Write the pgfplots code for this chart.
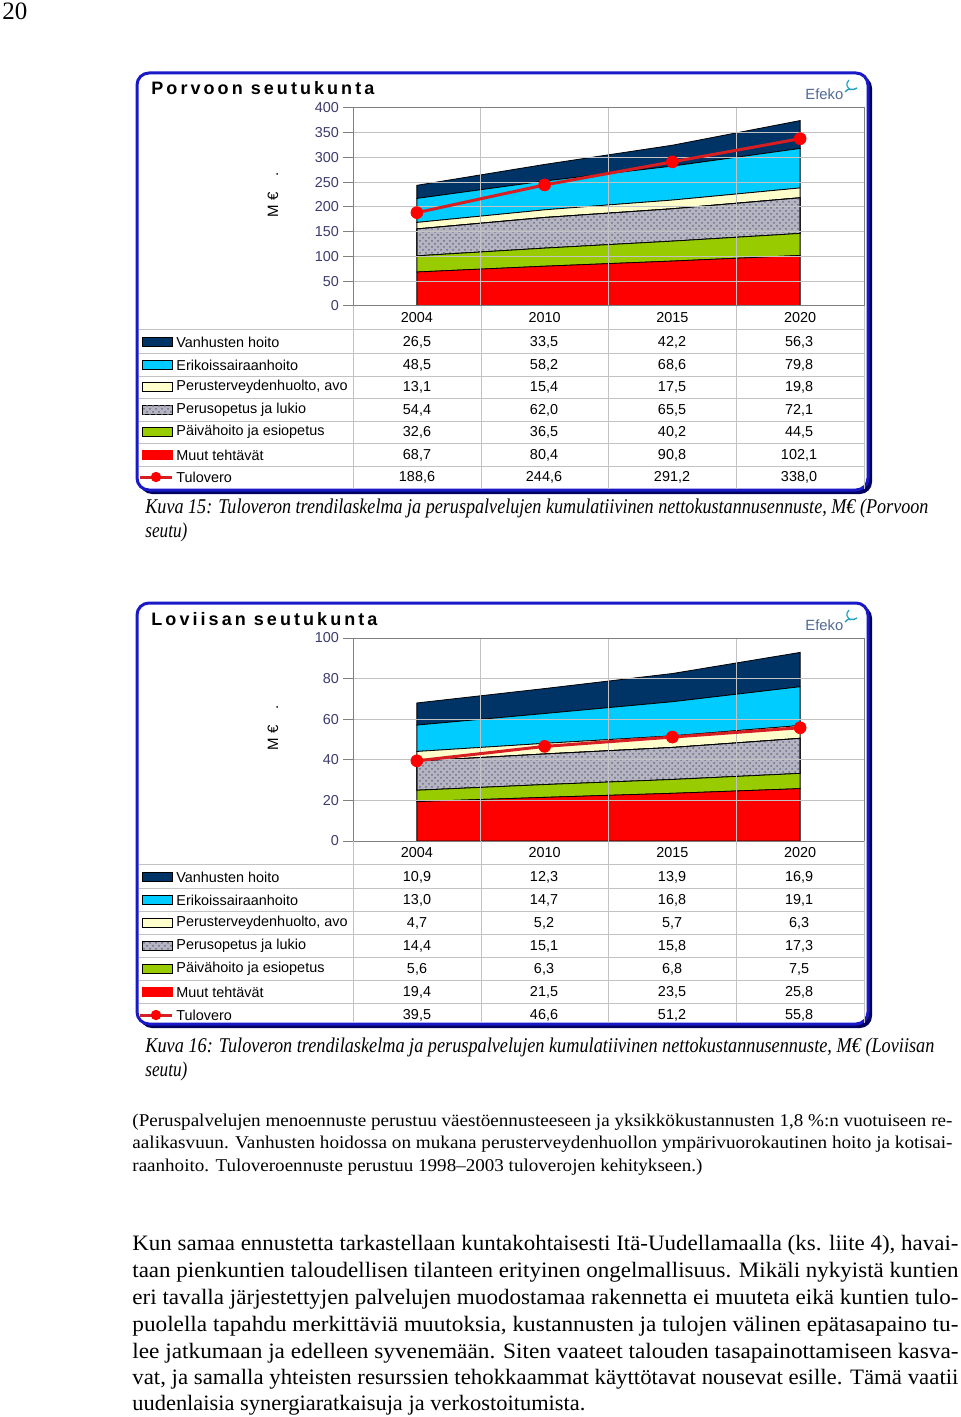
\documentclass[border=0pt]{standalone}
\usepackage{fontspec}
\setmainfont{Liberation Serif}
\newfontfamily\arial{Liberation Sans}
\newfontfamily\titlefont[LetterSpace=17]{Liberation Sans}
\usepackage{graphicx}
\usepackage{pgfplots}
\pgfplotsset{compat=1.18}
\usetikzlibrary{patterns}

\definecolor{navyc}{RGB}{0,51,102}
\definecolor{cyanc}{RGB}{0,204,255}
\definecolor{creamc}{RGB}{255,255,204}
\definecolor{greenc}{RGB}{153,204,0}
\definecolor{redc}{RGB}{255,0,0}
\definecolor{linered}{RGB}{215,30,35}
\definecolor{patgray}{RGB}{180,180,194}
\definecolor{patdot}{RGB}{110,110,130}
\definecolor{tickblue}{RGB}{60,60,110}
\definecolor{gridgray}{RGB}{195,195,195}
\definecolor{frameblue}{RGB}{25,25,200}
\definecolor{shadowc}{RGB}{0,0,95}
\definecolor{efekoc}{RGB}{80,105,150}
\definecolor{efekot}{RGB}{40,160,190}

\newcommand\tfont{\arial\fontsize{7.2}{8.6}\selectfont}

\tikzset{
  ar/.style={draw=black, line width=0.4pt, fill=#1},
  pat/.style={draw=black, line width=0.4pt, fill=patgray,
    postaction={pattern=crosshatch dots, pattern color=patdot}},
  tv/.style={linered, line width=1.5pt, mark=*, mark size=3pt,
    mark options={fill=redc, draw=redc, line width=0.3pt}},
}

\pgfplotsset{
  areabase/.style={
    scale only axis, width=255.5pt,
    xmin=-0.5, xmax=3.5, ymin=0,
    xtick={0,1,2,3}, xticklabels={2004,2010,2015,2020},
    minor xtick={-0.5,0.5,1.5,2.5,3.5}, xminorgrids,
    ymajorgrids, grid style={gridgray, line width=0.5pt},
    minor grid style={gridgray, line width=0.5pt},
    axis line style={gray, line width=0.5pt},
    xtick style={draw=none}, minor tick length=0pt,
    ytick style={gray, line width=0.5pt},
    tick align=outside, major tick length=5pt,
    xtick pos=bottom, ytick pos=left,
    /pgf/number format/assume math mode=true,
    yticklabel style={font=\tfont, text=tickblue, xshift=1.5pt},
    xticklabel style={font=\tfont, text=black, yshift=5.5pt},
    stack plots=y, area style,
  },
  lineover/.style={
    scale only axis, width=255.5pt,
    xmin=-0.5, xmax=3.5, ymin=0,
    axis lines=none, ticks=none,
  },
}

\newcommand\trow[5]{%
  \node[font=\tfont] at (417,#1) {#2};
  \node[font=\tfont] at (544,#1) {#3};
  \node[font=\tfont] at (672,#1) {#4};
  \node[font=\tfont] at (799,#1) {#5};}
\newcommand\lname[2]{\node[font=\tfont, anchor=west, inner sep=0pt] at (176,#1) {#2};}
\newcommand\key[2]{\filldraw[#2] (142,#1-4.5) rectangle (172,#1+4.5);}
\newcommand\jl[4]{\node[anchor=base west, inner sep=0pt] at (#1,#2) {\resizebox{#3}{\height}{#4}};}

\begin{document}
\begin{tikzpicture}
\useasboundingbox (0,0) rectangle (480pt,-708.5pt);
\fill[white] (0,0) rectangle (480pt,-708.5pt);

\begin{scope}[x=0.5pt,y=-0.5pt]
% frames
\fill[shadowc, rounded corners=6pt] (140,76) rectangle (872,494);
\filldraw[draw=frameblue, fill=white, line width=1.5pt, rounded corners=6pt] (137,73) rectangle (868,490);
\fill[shadowc, rounded corners=6pt] (140,606) rectangle (872,1028);
\filldraw[draw=frameblue, fill=white, line width=1.5pt, rounded corners=6pt] (137,603) rectangle (868,1024);
\end{scope}

% ---------- Chart 1 ----------
\begin{axis}[areabase, at={(176.5pt,-153pt)}, anchor=south west, height=99pt,
  ymax=400, ytick={0,50,100,150,200,250,300,350,400}]
\addplot[ar=redc] coordinates {(0,68.7)(1,80.4)(2,90.8)(3,102.1)} \closedcycle;
\addplot[ar=greenc] coordinates {(0,32.6)(1,36.5)(2,40.2)(3,44.5)} \closedcycle;
\addplot[pat] coordinates {(0,54.4)(1,62.0)(2,65.5)(3,72.1)} \closedcycle;
\addplot[ar=creamc] coordinates {(0,13.1)(1,15.4)(2,17.5)(3,19.8)} \closedcycle;
\addplot[ar=cyanc] coordinates {(0,48.5)(1,58.2)(2,68.6)(3,79.8)} \closedcycle;
\addplot[ar=navyc] coordinates {(0,26.5)(1,33.5)(2,42.2)(3,56.3)} \closedcycle;
\end{axis}
\begin{axis}[lineover, at={(176.5pt,-153pt)}, anchor=south west, height=99pt, ymax=400]
\addplot[tv] coordinates {(0,188.6)(1,244.6)(2,291.2)(3,338.0)};
\end{axis}

% ---------- Chart 2 ----------
\begin{axis}[areabase, at={(176.5pt,-420.5pt)}, anchor=south west, height=101.5pt,
  ymax=100, ytick={0,20,40,60,80,100}]
\addplot[ar=redc] coordinates {(0,19.4)(1,21.5)(2,23.5)(3,25.8)} \closedcycle;
\addplot[ar=greenc] coordinates {(0,5.6)(1,6.3)(2,6.8)(3,7.5)} \closedcycle;
\addplot[pat] coordinates {(0,14.4)(1,15.1)(2,15.8)(3,17.3)} \closedcycle;
\addplot[ar=creamc] coordinates {(0,4.7)(1,5.2)(2,5.7)(3,6.3)} \closedcycle;
\addplot[ar=cyanc] coordinates {(0,13.0)(1,14.7)(2,16.8)(3,19.1)} \closedcycle;
\addplot[ar=navyc] coordinates {(0,10.9)(1,12.3)(2,13.9)(3,16.9)} \closedcycle;
\end{axis}
\begin{axis}[lineover, at={(176.5pt,-420.5pt)}, anchor=south west, height=101.5pt, ymax=100]
\addplot[tv] coordinates {(0,39.5)(1,46.6)(2,51.2)(3,55.8)};
\end{axis}

\begin{scope}[x=0.5pt,y=-0.5pt]
% page number
\node[anchor=base west, inner sep=0pt, font=\fontsize{12.5}{14}\selectfont] at (2,20) {20};

% titles and logos
\node[anchor=base west, inner sep=0pt, font={\titlefont\bfseries\fontsize{9}{11}\selectfont}] at (151,95) {Porvoon seutukunta};
\node[anchor=base west, inner sep=0pt, font={\titlefont\bfseries\fontsize{9}{11}\selectfont}] at (151,625) {Loviisan seutukunta};
\foreach \yy in {0,530} {
  \node[anchor=base west, inner sep=0pt, text=efekoc, font=\arial\fontsize{7.4}{9}\selectfont] at (805,100+\yy) {Efeko};
  \draw[efekot, line width=0.7pt] (845,\yy+92) .. controls (850,\yy+86) and (852,\yy+92) .. (857,\yy+88);
  \draw[efekot, line width=0.6pt] (849,\yy+80) .. controls (845,\yy+84) and (847,\yy+88) .. (851,\yy+90);
}

% y labels
\node[rotate=90, font=\arial\fontsize{7.5}{9}\selectfont] at (273,195) {M €\hspace{8pt}.};
\node[rotate=90, font=\arial\fontsize{7.5}{9}\selectfont] at (273,728) {M €\hspace{8pt}.};

% ---------- table 1 ----------
\foreach \xx in {353,481,608,736,864} \draw[gridgray, line width=0.5pt] (\xx,306) -- (\xx,489);
\foreach \yy in {329.5,353.5,376,398.5,421,443.5,466} \draw[gridgray, line width=0.5pt] (139,\yy) -- (864,\yy);
\trow{342}{26,5}{33,5}{42,2}{56,3}
\trow{365}{48,5}{58,2}{68,6}{79,8}
\trow{387}{13,1}{15,4}{17,5}{19,8}
\trow{410}{54,4}{62,0}{65,5}{72,1}
\trow{432}{32,6}{36,5}{40,2}{44,5}
\trow{455}{68,7}{80,4}{90,8}{102,1}
\trow{477}{188,6}{244,6}{291,2}{338,0}
\lname{342}{Vanhusten hoito}
\lname{365}{Erikoissairaanhoito}
\lname{387}{Perusterveydenhuolto, avo}
\lname{410}{Perusopetus ja lukio}
\lname{432}{Päivähoito ja esiopetus}
\lname{455}{Muut tehtävät}
\lname{477}{Tulovero}
\key{342}{ar=navyc}
\key{365}{ar=cyanc}
\key{387}{ar=creamc}
\key{410}{pat}
\key{432}{ar=greenc}
\key{455}{draw=redc, fill=redc, line width=0.4pt}
\draw[linered, line width=1.5pt] (140,477) -- (172,477);
\fill[redc] (156,477) circle (2.6pt);

% ---------- table 2 ----------
\foreach \xx in {353,481,608,736,864} \draw[gridgray, line width=0.5pt] (\xx,841) -- (\xx,1023);
\foreach \yy in {864.5,888.5,911.5,934.5,957.5,980.5,1003.5} \draw[gridgray, line width=0.5pt] (139,\yy) -- (864,\yy);
\trow{877}{10,9}{12,3}{13,9}{16,9}
\trow{900}{13,0}{14,7}{16,8}{19,1}
\trow{923}{4,7}{5,2}{5,7}{6,3}
\trow{946}{14,4}{15,1}{15,8}{17,3}
\trow{969}{5,6}{6,3}{6,8}{7,5}
\trow{992}{19,4}{21,5}{23,5}{25,8}
\trow{1015}{39,5}{46,6}{51,2}{55,8}
\lname{877}{Vanhusten hoito}
\lname{900}{Erikoissairaanhoito}
\lname{923}{Perusterveydenhuolto, avo}
\lname{946}{Perusopetus ja lukio}
\lname{969}{Päivähoito ja esiopetus}
\lname{992}{Muut tehtävät}
\lname{1015}{Tulovero}
\key{877}{ar=navyc}
\key{900}{ar=cyanc}
\key{923}{ar=creamc}
\key{946}{pat}
\key{969}{ar=greenc}
\key{992}{draw=redc, fill=redc, line width=0.4pt}
\draw[linered, line width=1.5pt] (140,1015) -- (172,1015);
\fill[redc] (156,1015) circle (2.6pt);

% ---------- captions ----------
\jl{145}{513}{391.5pt}{\fontsize{10.5}{12}\selectfont\itshape Kuva 15: Tuloveron trendilaskelma ja peruspalvelujen kumulatiivinen nettokustannusennuste, M€ (Porvoon}
\jl{145}{537}{21pt}{\fontsize{10.5}{12}\selectfont\itshape seutu)}
\jl{145}{1052}{394.5pt}{\fontsize{10.5}{12}\selectfont\itshape Kuva 16: Tuloveron trendilaskelma ja peruspalvelujen kumulatiivinen nettokustannusennuste, M€ (Loviisan}
\jl{145}{1076}{21pt}{\fontsize{10.5}{12}\selectfont\itshape seutu)}

% ---------- small paragraph ----------
\jl{132}{1126}{410pt}{\fontsize{9}{11}\selectfont (Peruspalvelujen menoennuste perustuu väestöennusteeseen ja yksikkökustannusten 1,8 \%:n vuotuiseen re-}
\jl{132}{1148}{410pt}{\fontsize{9}{11}\selectfont aalikasvuun. Vanhusten hoidossa on mukana perusterveydenhuollon ympärivuorokautinen hoito ja kotisai-}
\jl{132}{1171}{285pt}{\fontsize{9}{11}\selectfont raanhoito. Tuloveroennuste perustuu 1998–2003 tuloverojen kehitykseen.)}

% ---------- body ----------
\jl{132}{1250}{413pt}{\fontsize{11}{13}\selectfont Kun samaa ennustetta tarkastellaan kuntakohtaisesti Itä-Uudellamaalla (ks. liite 4), havai-}
\jl{132}{1277}{413pt}{\fontsize{11}{13}\selectfont taan pienkuntien taloudellisen tilanteen erityinen ongelmallisuus. Mikäli nykyistä kuntien}
\jl{132}{1304}{413pt}{\fontsize{11}{13}\selectfont eri tavalla järjestettyjen palvelujen muodostamaa rakennetta ei muuteta eikä kuntien tulo-}
\jl{132}{1331}{413pt}{\fontsize{11}{13}\selectfont puolella tapahdu merkittäviä muutoksia, kustannusten ja tulojen välinen epätasapaino tu-}
\jl{132}{1358}{413pt}{\fontsize{11}{13}\selectfont lee jatkumaan ja edelleen syvenemään. Siten vaateet talouden tasapainottamiseen kasva-}
\jl{132}{1384}{413pt}{\fontsize{11}{13}\selectfont vat, ja samalla yhteisten resurssien tehokkaammat käyttötavat nousevat esille. Tämä vaatii}
\jl{132}{1410}{226.5pt}{\fontsize{11}{13}\selectfont uudenlaisia synergiaratkaisuja ja verkostoitumista.}
\end{scope}
\end{tikzpicture}
\end{document}
